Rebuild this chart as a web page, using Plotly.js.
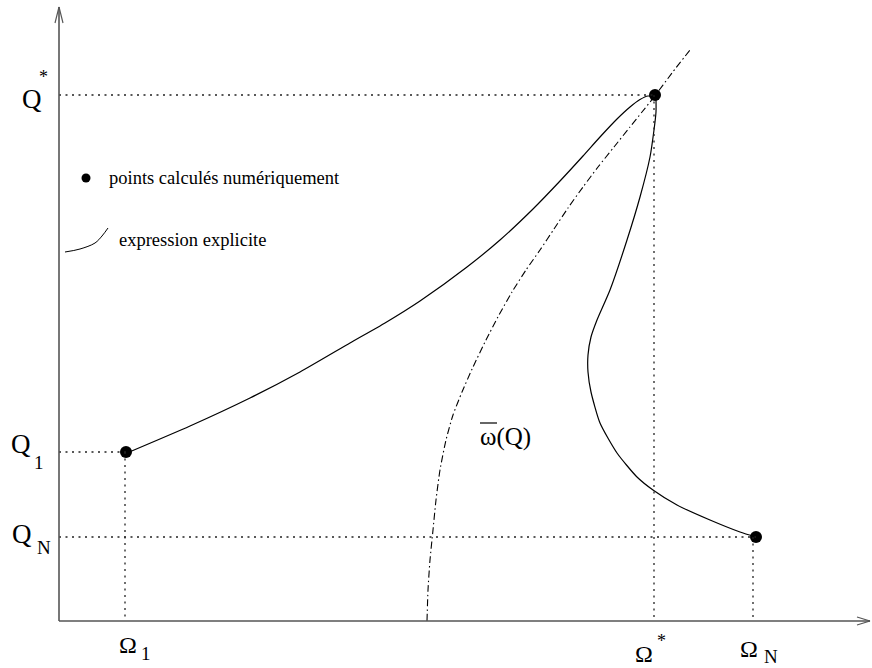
<!DOCTYPE html>
<html>
<head>
<meta charset="utf-8">
<script src="https://cdn.plot.ly/plotly-3.0.1.min.js"></script>
<style>html,body{margin:0;padding:0;background:#fff;}#chart{width:872px;height:668px;}</style>
</head>
<body>
<div id="chart"></div>
<script>
// Upper solid curve: from (Omega_1, Q_1) up to (Omega*, Q*)
const upperOmega = [68, 131, 191, 241, 291, 326, 361, 408, 441, 474, 501, 524, 541, 558, 571, 581, 589, 596];
const upperQ     = [168, 195, 223, 249, 278, 298, 320, 354, 381, 412, 440, 465, 484, 502, 514, 521.5, 525, 524];
// Lower solid curve: from (Omega*, Q*) down to (Omega_N, Q_N)
const lowerOmega = [597, 597, 595, 591, 581, 568, 551, 538, 532, 529, 529, 532, 541, 558, 578, 594, 618, 651, 681, 697];
const lowerQ     = [523, 509, 491, 464, 424, 381, 331, 301, 284, 266, 249, 229, 198, 168, 144, 131, 116, 101, 89, 84];
// Dash-dot curve omega-bar(Q)
const barOmega = [368, 369, 371, 374, 377, 381, 387, 394, 403, 414, 427, 440, 453, 467, 481, 495, 509, 524, 539, 555, 571, 583, 595, 613, 631];
const barQ     = [0, 31, 61, 91, 121, 151, 181, 206, 229, 254, 281, 306, 329, 351, 371, 392, 413, 434, 454, 474, 494, 509, 524, 548, 571];
// Numerically computed points (Omega_1,Q_1), (Omega*,Q*), (Omega_N,Q_N)
const ptOmega = [67, 596, 697];
const ptQ     = [169, 526, 84];
// Legend glyphs
const legendDot = [27, 443];
const legendLineOmega = [6, 21, 36, 43, 49];
const legendLineQ     = [369, 372, 378, 385, 393];
const legendTexts = ["points calculés numériquement", "expression explicite"];
const curveLabel = "ω(Q)";

const FONT = "Liberation Serif";
const black = "#000";

// plot area geometry (pixels) used to place labels outside the axes
const ML = 50, MT = 0, PW = 822, PH = 626;
const px = v => (v - ML) / PW;
const py = v => 1 - (v - MT) / PH;

const traces = [
  {x: upperOmega, y: upperQ, mode: "lines", line: {color: black, width: 1.2, shape: "spline", smoothing: 0.6}, hoverinfo: "skip"},
  {x: lowerOmega, y: lowerQ, mode: "lines", line: {color: black, width: 1.2, shape: "spline", smoothing: 0.6}, hoverinfo: "skip"},
  {x: barOmega, y: barQ, mode: "lines", line: {color: black, width: 1.1, shape: "spline", smoothing: 0.6, dash: "7px,3px,1.5px,3px"}, hoverinfo: "skip"},
  {x: ptOmega, y: ptQ, mode: "markers", marker: {color: black, size: 12}, hoverinfo: "skip"},
  {x: [legendDot[0]], y: [legendDot[1]], mode: "markers", marker: {color: black, size: 9}, hoverinfo: "skip"},
  {x: legendLineOmega, y: legendLineQ, mode: "lines", line: {color: black, width: 1, shape: "spline"}, hoverinfo: "skip"}
];

const dotted = {color: "#222", width: 1.3, dash: "2px,4.5px"};
const shapes = [];
// guide lines
shapes.push({type: "line", x0: 0, x1: ptOmega[1], y0: 526, y1: 526, line: dotted});
shapes.push({type: "line", x0: ptOmega[1] - 1, x1: ptOmega[1] - 1, y0: 526, y1: 0, line: dotted});
shapes.push({type: "line", x0: 0, x1: ptOmega[0], y0: ptQ[0], y1: ptQ[0], line: dotted});
shapes.push({type: "line", x0: ptOmega[0] - 1, x1: ptOmega[0] - 1, y0: ptQ[0], y1: 0, line: dotted});
shapes.push({type: "line", x0: 0, x1: ptOmega[2], y0: ptQ[2], y1: ptQ[2], line: dotted});
shapes.push({type: "line", x0: ptOmega[2] - 3, x1: ptOmega[2] - 3, y0: ptQ[2], y1: 0, line: dotted});
// axes
const axLine = {color: "#555", width: 1.6};
const arrowLine = {color: "#555", width: 1.2};
shapes.push({type: "line", x0: 0, x1: 0, y0: 0, y1: 614, line: axLine});
shapes.push({type: "line", x0: -4, x1: 0, y0: 598, y1: 614, line: arrowLine});
shapes.push({type: "line", x0: 4, x1: 0, y0: 598, y1: 614, line: arrowLine});
shapes.push({type: "line", x0: 0, x1: 811, y0: 0, y1: 0, line: axLine});
shapes.push({type: "line", x0: 798, x1: 811, y0: 4, y1: 0, line: arrowLine});
shapes.push({type: "line", x0: 798, x1: 811, y0: -4, y1: 0, line: arrowLine});
// overline over omega in the curve label
shapes.push({type: "line", x0: 421, x1: 438, y0: 198, y1: 198, line: {color: black, width: 1.2}});

const big = {family: FONT, size: 27, color: black};
const om = {family: FONT, size: 24, color: black};
const sub = {family: FONT, size: 19, color: black};
const star = {family: FONT, size: 18, color: black};
function lbl(x, y, text, font) {
  return {x: px(x), y: py(y), xref: "paper", yref: "paper", text: text, showarrow: false,
          xanchor: "center", yanchor: "middle", font: font};
}
const annotations = [
  {x: legendDot[0] + 21, y: legendDot[1], xref: "x", yref: "y", text: legendTexts[0], showarrow: false, xanchor: "left", yanchor: "middle", font: {family: FONT, size: 18.5, color: black}},
  {x: legendLineOmega[4] + 9, y: 381, xref: "x", yref: "y", text: legendTexts[1], showarrow: false, xanchor: "left", yanchor: "middle", font: {family: FONT, size: 18.5, color: black}},
  {x: 419, y: 184, xref: "x", yref: "y", text: curveLabel, showarrow: false, xanchor: "left", yanchor: "middle", font: {family: FONT, size: 25, color: black}},
  // y-axis labels
  lbl(32, 99, "Q", big), lbl(43, 77, "*", star),
  lbl(21, 444, "Q", big), lbl(39, 462, "1", sub),
  lbl(22, 534, "Q", big), lbl(44, 547, "N", sub),
  // x-axis labels
  lbl(128, 645, "Ω", om), lbl(146, 653, "1", sub),
  lbl(644, 654, "Ω", om), lbl(661, 641, "*", star),
  lbl(749, 649, "Ω", om), lbl(771, 656, "N", sub)
];

const layout = {
  width: 872, height: 668,
  margin: {l: ML, r: 0, t: MT, b: 668 - MT - PH, pad: 0},
  paper_bgcolor: "#fff", plot_bgcolor: "#fff",
  showlegend: false,
  xaxis: {range: [-9, 813], visible: false, fixedrange: true},
  yaxis: {range: [-5, 621], visible: false, fixedrange: true},
  shapes: shapes,
  annotations: annotations
};

Plotly.newPlot("chart", traces, layout, {staticPlot: true});
</script>
</body>
</html>
